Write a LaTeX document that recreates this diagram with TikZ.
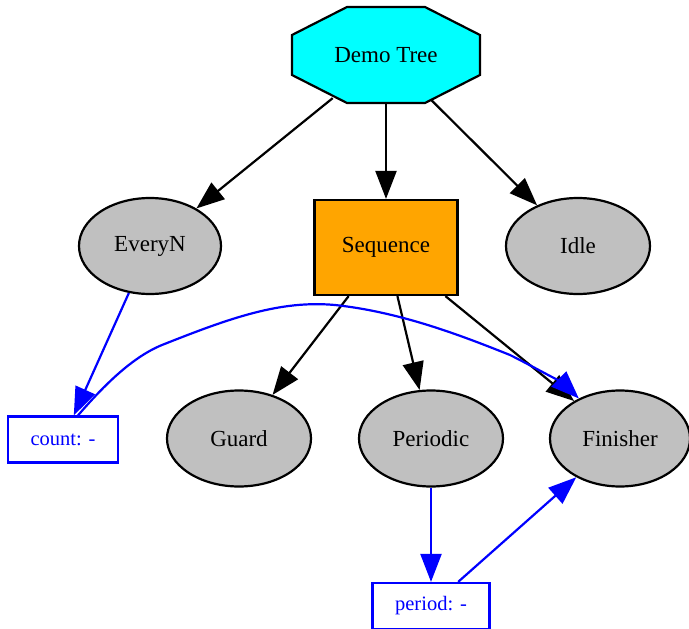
\documentclass[tikz,border=0pt]{standalone}
\usepackage{fontspec}
\setmainfont{Liberation Serif}
\usetikzlibrary{shapes.geometric,arrows.meta,calc}
\definecolor{rootcyan}{RGB}{0,255,255}
\definecolor{seqorange}{RGB}{255,165,0}
\definecolor{leafgray}{RGB}{192,192,192}
\definecolor{infoblue}{RGB}{0,0,255}
\tikzset{
  every node/.style={font=\fontsize{23}{27}\selectfont},
  leaf/.style={ellipse, draw=black, fill=leafgray, line width=2.2pt, minimum width=142pt, minimum height=96pt, inner sep=0pt},
  seqbox/.style={rectangle, draw=black, fill=seqorange, line width=2.2pt, minimum width=143pt, minimum height=95pt, inner sep=0pt},
  infobox/.style={rectangle, draw=infoblue, text=infoblue, line width=2.2pt, minimum height=46pt, inner sep=0pt, font=\fontsize{20.5}{24}\selectfont},
  tedge/.style={draw=black, line width=2.2pt, -{Triangle[length=28pt,width=21pt]}},
  bedge/.style={draw=infoblue, line width=2.2pt, -{Triangle[length=28pt,width=21pt]}},
}
\begin{document}
\begin{tikzpicture}[x=1pt,y=-1pt]
\useasboundingbox (0,0) rectangle (689,629);
% octagon root
\filldraw[fill=rootcyan, draw=black, line width=2.2pt, line join=miter] (347,7) -- (425,7) -- (480,35) -- (480,75) -- (425,103) -- (347,103) -- (292,75) -- (292,35) -- cycle;
\node[ellipse, minimum width=238pt, minimum height=96pt, inner sep=0pt] (demo) at (386,55) {Demo Tree};

\node[leaf] (everyn) at (150,246) {EveryN};
\node[seqbox] (seq) at (386,247.5) {Sequence};
\node[leaf, minimum width=144pt] (idle) at (578,246) {Idle};
\node[leaf, minimum width=144pt] (guard) at (239,438.5) {Guard};
\node[leaf, minimum width=144pt] (periodic) at (431,438.5) {Periodic};
\node[leaf, minimum width=140pt] (finisher) at (620,438.5) {Finisher};
\node[infobox, minimum width=110pt] (count) at (63,439.5) {count: -};
\node[infobox, minimum width=117pt] (period) at (431,606) {period: -};

\draw[tedge] (demo) -- (everyn);
\draw[tedge] (demo) -- (seq);
\draw[tedge] (demo) -- (idle);
\draw[tedge] (seq) -- (guard);
\draw[tedge] (seq) -- (periodic);
\draw[tedge] (seq) -- (finisher);

\draw[bedge] (everyn) -- (count);
\draw[bedge] (periodic) -- (period);
\draw[bedge] (period) -- (finisher);
\draw[bedge] ($(count.north)+(15,0)$) .. controls (100,390) and (130,358) .. (162,345)
   .. controls (230,318) and (280,300) .. (335,305)
   .. controls (400,312) and (460,335) .. (510,355)
   .. controls (540,370) and (565,385) .. (finisher);
\end{tikzpicture}
\end{document}
